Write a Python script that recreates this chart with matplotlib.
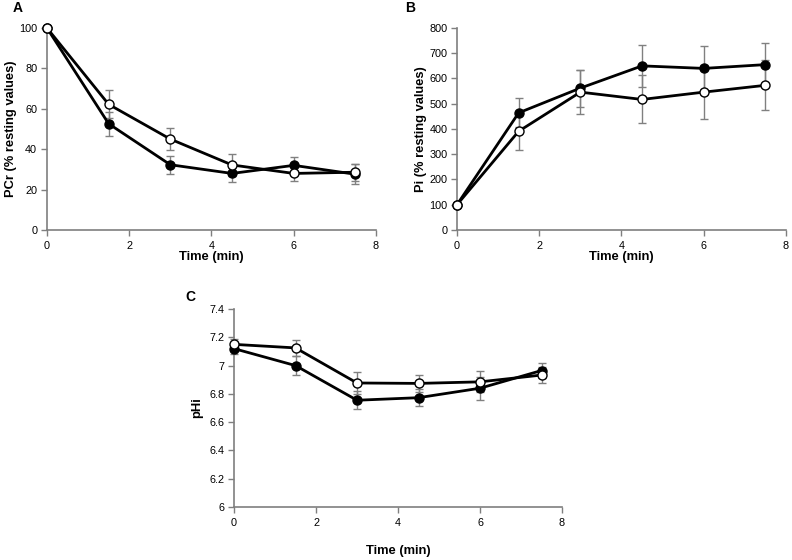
import matplotlib.pyplot as plt

plt.rcParams['font.family'] = ['Liberation Sans', 'DejaVu Sans']

time_min = [0, 1.5, 3, 4.5, 6, 7.5]

# panel A - PCr (% resting values)
pcr_filled = [100, 52.6, 32.3, 28.0, 32.0, 27.6]
pcr_filled_err = [0, 6.0, 4.4, 4.3, 4.0, 5.0]
pcr_open = [100, 62.2, 45.0, 32.2, 28.0, 28.6]
pcr_open_err = [0, 7.0, 5.6, 5.4, 3.6, 4.2]

# panel B - Pi (% resting values)
pi_filled = [100, 464, 562, 650, 640, 655]
pi_filled_err = [0, 58, 73, 84, 87, 87]
pi_open = [100, 391, 546, 517, 546, 573]
pi_open_err = [0, 74, 86, 95, 107, 99]

# panel C - pHi
ph_filled = [7.12, 7.0, 6.755, 6.773, 6.84, 6.965]
ph_filled_err = [0.04, 0.07, 0.065, 0.06, 0.08, 0.055]
ph_open = [7.15, 7.125, 6.877, 6.874, 6.885, 6.933]
ph_open_err = [0.04, 0.055, 0.075, 0.06, 0.075, 0.055]

spine_col = '#7f7f7f'
err_col = '#808080'


def draw(ax, filled, ferr, opn, oerr, ylim, yticks, ytlabels, ylabel, xpad, ypad):
    ax.errorbar(time_min, filled, yerr=ferr, fmt='none', ecolor=err_col,
                elinewidth=1, capsize=3, capthick=1, zorder=1)
    ax.errorbar(time_min, opn, yerr=oerr, fmt='none', ecolor=err_col,
                elinewidth=1, capsize=3, capthick=1, zorder=1)
    ax.plot(time_min, filled, color='black', lw=2, marker='o', ms=6.5,
            mfc='black', mec='black', zorder=3)
    ax.plot(time_min, opn, color='black', lw=2, marker='o', ms=6.5,
            mfc='white', mec='black', mew=1, zorder=4)
    ax.set_xlim(0, 8)
    ax.set_ylim(*ylim)
    ax.set_xticks([0, 2, 4, 6, 8])
    ax.set_yticks(yticks)
    ax.set_yticklabels(ytlabels)
    for s in ['top', 'right']:
        ax.spines[s].set_visible(False)
    for s in ['left', 'bottom']:
        ax.spines[s].set_color(spine_col)
        ax.spines[s].set_linewidth(1.2)
    ax.tick_params(direction='out', length=4, width=1, color=spine_col,
                   labelsize=7.8)
    ax.tick_params(axis='x', pad=4)
    ax.tick_params(axis='y', pad=3)
    ax.set_xlabel('Time (min)', fontsize=9.3, fontweight='bold', labelpad=xpad)
    ax.set_ylabel(ylabel, fontsize=9.3, fontweight='bold', labelpad=ypad)
    for sp in ax.spines.values():
        sp.set_zorder(0)


fig = plt.figure(figsize=(7.92, 5.6), dpi=100)

axA = fig.add_axes([0.0593, 0.5893, 0.4154, 0.3607])
draw(axA, pcr_filled, pcr_filled_err, pcr_open, pcr_open_err, (0, 100),
     [0, 20, 40, 60, 80, 100], ['0', '20', '40', '60', '80', '100'],
     'PCr (% resting values)', 0, 1.5)

axB = fig.add_axes([0.577, 0.5893, 0.4154, 0.3607])
draw(axB, pi_filled, pi_filled_err, pi_open, pi_open_err, (0, 800),
     list(range(0, 801, 100)), [str(v) for v in range(0, 801, 100)],
     'Pi (% resting values)', 0, 1.5)

axC = fig.add_axes([0.2955, 0.0946, 0.4141, 0.3536])
pht = [6, 6.2, 6.4, 6.6, 6.8, 7, 7.2, 7.4]
draw(axC, ph_filled, ph_filled_err, ph_open, ph_open_err, (6, 7.4),
     pht, ['6', '6.2', '6.4', '6.6', '6.8', '7', '7.2', '7.4'],
     'pHi', 12, 4)

for ax in [axA, axB, axC]:
    for ln in ax.lines:
        ln.set_clip_on(False)
    for coll in ax.collections:
        coll.set_clip_on(False)

fig.text(18 / 792, 1 - 8 / 560, 'A', fontsize=10, fontweight='bold',
         ha='center', va='center')
fig.text(410 / 792, 1 - 8 / 560, 'B', fontsize=10, fontweight='bold',
         ha='center', va='center')
fig.text(190 / 792, 1 - 297 / 560, 'C', fontsize=10, fontweight='bold',
         ha='center', va='center')

fig.savefig('out.png', dpi=100)
